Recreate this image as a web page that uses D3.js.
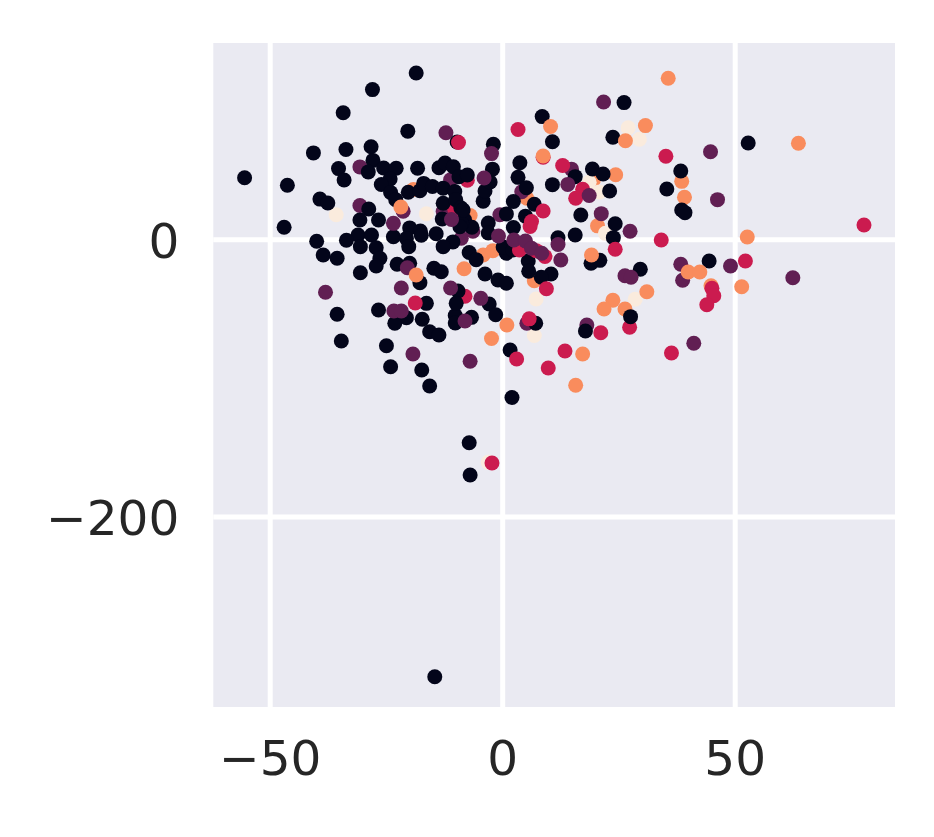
<!DOCTYPE html>
<html><head><meta charset="utf-8">
<script src="https://cdnjs.cloudflare.com/ajax/libs/d3/7.8.5/d3.min.js"></script>
<style>html,body{margin:0;padding:0;background:#fff}svg{display:block}</style>
</head><body><svg id="chart" width="934" height="837"></svg>
<script>
const palette=["#03051A","#611F53","#CB1B4F","#F98C5D","#FAEBDD"];
const xTicks=[-50,0,50];
const yTicks=[-200,0];
// points lying beneath the class-0 points
const underClass=[3,3,4,4,4,4,4,4,4,4,4,4,4,3,3,3,3,3,3,3,3,3,3,3,3,3,1,1,1,1,1,1,1,1,1,1,1,1,1,1,1,2,2,2,2,2,2];
const underX=[19.6,20.5,-35.7,-16.3,27.1,29.5,18.7,20.9,22.2,28.6,7.3,6.9,-3,-19.1,-6.9,5.3,38.6,39.2,24.4,-2,-4.1,6.9,31.1,23.8,21.9,26.4,-30.6,-12.1,-11.1,-30.6,-21.3,-12.7,-8.8,-6.3,-0.5,4.2,18.2,14.9,-38,38.4,5.3,8.8,-7.5,-10.2,13,-8,27.4];
const underY=[42.8,9.7,17.7,18.4,80.5,72.2,41.1,34.1,4.3,-43.3,-43.1,-69.4,-160.9,35.9,17.2,29.6,41.8,30.3,46.6,-8.2,-11.3,-29.9,-37.8,-44,-50.3,-50.3,52.2,76.9,42.9,24.4,20.2,20,0.7,5.8,17.7,34.3,-61.8,50.6,-38.2,-18,-60.6,59.2,42.6,21.4,53.2,-41.1,-63.5];
// class-0 points
const blackX=[-18.5,-27.9,-34.2,-20.3,-33.6,-28.2,-40.6,-55.4,-46.2,-35.2,-34,-39.2,-37.5,-46.9,-39.9,-27.8,-28.8,-25.5,-22.8,-24.1,-26,-24,-22.9,-20.2,-17.7,-16.9,-15,-18.2,-13.6,-12.3,-10.5,-9.3,-7.5,-12.7,-10.2,-12.7,-10,-8.9,-8.1,-6.5,-12.9,-4.1,-3.7,-2.6,-2.1,-1.9,-3,-3,0.9,2.4,3.8,3.4,5.2,6.9,5,2.4,10.8,8.6,10.8,15.7,19.4,21.7,23.1,23.8,26.2,52.9,38.4,35.4,38.6,39.3,24.3,23.9,16.9,15.7,12,19.1,21,29.7,44.5,27.6,17.9,7.2,1.7,2.1,-28.7,-30.6,-26.6,-31,-28.1,-33.5,-19.9,-23.4,-17.6,-17.4,-20.6,-14.2,-10.6,-12.7,-38.5,-35.5,-30.5,-27.1,-26.3,-27.1,-30.5,-20.1,-22.6,-19.9,-17.7,-14.7,-13.1,-7.1,-5.6,-3.7,-0.9,0.9,0.9,-2.8,-1.4,-6.6,-10.1,-10.1,-9.5,-9.9,-16.3,-17.2,-15.6,-13.6,-20.6,-23.1,-26.6,-35.5,-34.6,-24.9,-24,-17.3,-15.6,-7.1,-6.9,-14.5,5.6,5.7,10.5,8.4,-8.7,-8.4,0.2,2.3,-9.1,-9.7];
const blackY=[120,108,91.3,78,64.8,66.8,62.3,44.4,39,51,42.8,29,26.2,8.7,-1.4,56.9,48.6,51.4,51.2,43.5,39.5,33.8,28.6,33.9,35,40.3,38.1,51.2,51.6,55,52.3,45.1,46.4,36.9,34.5,26,28.5,22.8,14.1,8.7,14.6,27.5,34.8,41.3,50.6,68.5,11.8,4.5,18.3,27.3,55.2,44.7,37.2,25.3,16.7,8.5,70.4,88.5,39.4,45.2,50.7,47.1,34.8,73.6,98.6,69.5,49.3,36.3,21.1,19.2,11.2,1.2,17.5,3.1,1.1,-17.3,-15.2,-21.6,-15.7,-55.8,-66.2,-60.6,-79.9,-114.1,21.9,13.9,13.9,3.1,3.1,-0.7,8.2,1.8,6,2.9,0.6,4,-1.9,-5.3,-11.3,-13.7,-5.3,-6.1,-13.7,-19.3,-24.1,-5.3,-18,-17.3,-31.3,-20.9,-23.4,-9.5,-14.7,-25,-29.4,-31.7,-10.1,-46.7,-54.4,-56.3,-55,-60.4,-37.3,-46.2,-46.2,-57.7,-66.7,-69,-56.6,-60.6,-51,-54.1,-73.4,-76.8,-91.9,-94.3,-105.8,-146.8,-170,-315.6,-15.7,-23.1,-25,-27.4,11.5,21.1,-5.6,-7.7,9.1,70.2];
// points lying above the class-0 points
const overClass=[2,2,2,2,2,2,2,2,2,2,2,2,2,2,2,2,2,2,2,2,2,2,1,1,1,1,1,1,1,1,1,1,1,1,1,1,1,1,1,1,1,1,1,1,1,1,1,1,1,1,1,1,1,1,1,3,3,3,3,3,3,3,3,3,3,3,3,3,3,3,3,3,3,3,2,2,2,2,2];
const overX=[-9.4,3.4,8.8,6.3,6,3.7,7.3,9.2,17.3,15.8,35.2,24.3,34.2,77.8,52.3,9.5,-18.7,5.8,3.1,13.5,9.9,21.2,-2.3,-3.9,-23.4,-10.9,-0.8,2.5,5,6.3,8.5,12,12.6,14.1,18.7,21.3,27.5,21.8,44.8,46.3,-20.4,-21.7,-11.1,-4.6,-23.3,-21.7,-8,-19.2,-6.9,49.1,26.4,27.7,38.8,62.5,41.2,8.8,-21.8,10.4,1,-2.3,35.7,30.8,26.5,63.7,-8.2,-18.5,19.2,52.7,40,42.5,44.9,51.5,17.3,15.8,36.4,45.1,45.5,44,-2.2];
const overY=[69.8,79.2,20.4,12.8,9.2,-7.7,-8.2,-12.4,36.1,29.6,59.9,-7.2,-0.5,10.3,-15.7,-35.7,-46,-57.4,-86.4,-80.6,-92.9,-67.4,61.8,44.2,11.5,14.3,2.4,-0.5,-1.2,-6.5,-10.1,-3.8,-14.9,39.6,31.6,18.5,5.8,99,63.2,28.6,-20.5,-35.1,-35.1,-42.6,-51.7,-51.7,-58.9,-82.8,-88,-19.3,-26.3,-27.4,-29.6,-27.7,-75,60.1,23.3,81.4,-61.8,-71.6,116.2,82,71.1,69.3,-21.3,-25.8,-11.3,1.7,-23.6,-23.6,-33.5,-34.2,-82.8,-105.3,-82,-35.4,-40.7,-47.2,-161.4];

const plotLeft=213.3,plotRight=895,plotTop=43,plotBottom=707;
const x=d3.scaleLinear().domain([-62.13,84.47]).range([plotLeft,plotRight]);
const y=d3.scaleLinear().domain([141.6,-337.4]).range([plotTop,plotBottom]);
const svg=d3.select("#chart");
svg.append("rect").attr("x",plotLeft).attr("y",plotTop).attr("width",plotRight-plotLeft).attr("height",plotBottom-plotTop).attr("fill","#EAEAF2");

const gx=svg.append("g").attr("transform",`translate(0,${plotBottom})`)
  .call(d3.axisBottom(x).tickValues(xTicks).tickSize(-(plotBottom-plotTop)).tickPadding(34));
const gy=svg.append("g").attr("transform",`translate(${plotLeft},0)`)
  .call(d3.axisLeft(y).tickValues(yTicks).tickSize(-(plotRight-plotLeft)).tickPadding(34));
[gx,gy].forEach(g=>{
  g.select(".domain").remove();
  g.selectAll("line").attr("stroke","#fff").attr("stroke-width",5);
  g.selectAll("text").attr("fill","#262626").attr("font-family","'DejaVu Sans'").attr("font-size",48.5);
});
gy.selectAll("text").attr("dy","0.38em");

function draw(xs,ys,cs){
  svg.append("g").selectAll("circle").data(xs.map((d,i)=>({x:d,y:ys[i],c:cs[i]}))).join("circle")
    .attr("cx",d=>x(d.x)).attr("cy",d=>y(d.y)).attr("r",7.5).attr("fill",d=>palette[d.c]);
}
draw(underX,underY,underClass);
draw(blackX,blackY,blackX.map(()=>0));
draw(overX,overY,overClass);
</script></body></html>
